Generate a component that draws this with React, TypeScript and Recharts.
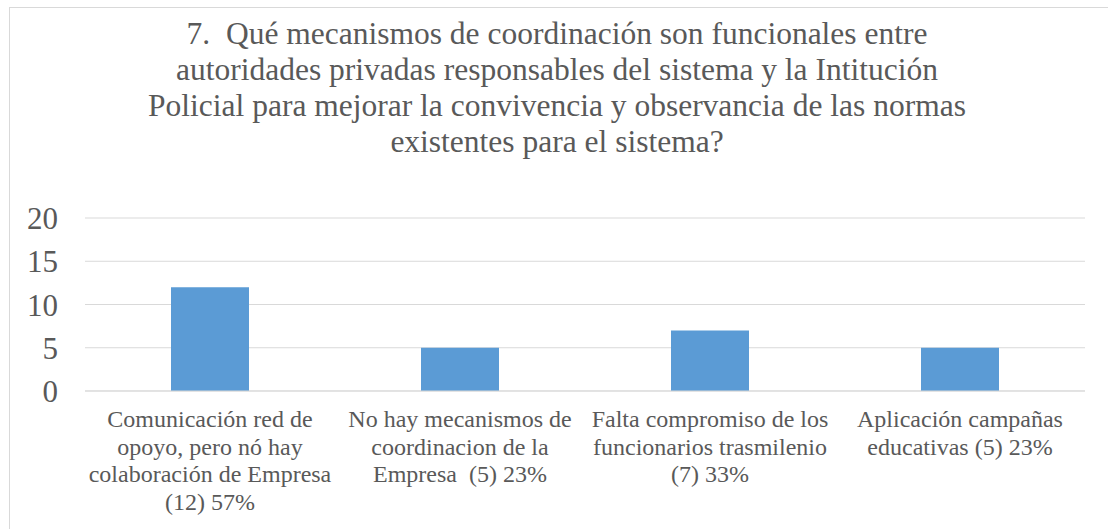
import { BarChart, Bar, XAxis, YAxis, CartesianGrid } from "recharts";

const TITLE_LINES = [
  "7.  Qué mecanismos de coordinación son funcionales entre",
  "autoridades privadas responsables del sistema y la Intitución",
  "Policial para mejorar la convivencia y observancia de las normas",
  "existentes para el sistema?",
];

const categories = [
  "Comunicación red de\nopoyo, pero nó hay\ncolaboración de Empresa\n(12) 57%",
  "No hay mecanismos de\ncoordinacion de la\nEmpresa  (5) 23%",
  "Falta compromiso de los\nfuncionarios trasmilenio\n(7) 33%",
  "Aplicación campañas\neducativas (5) 23%",
];
const counts = [12, 5, 7, 5];
const yTicks = [0, 5, 10, 15, 20];

const data = categories.map((name, i) => ({ name, value: counts[i] }));

const FONT = "Liberation Serif";
const TEXT_COLOR = "#595959";

function CategoryTick({ x, y, payload }: any) {
  const lines = String(payload.value).split("\n");
  return (
    <text
      x={x}
      y={y + 36}
      textAnchor="middle"
      fill={TEXT_COLOR}
      fontFamily={FONT}
      fontSize={24}
      xmlSpace="preserve"
    >
      {lines.map((line, i) => (
        <tspan key={i} x={x} dy={i === 0 ? 0 : 27.5}>
          {line}
        </tspan>
      ))}
    </text>
  );
}

export default function App() {
  return (
    <div style={{ position: "relative", width: 1108, height: 529, overflow: "hidden", background: "#fff" }}>
      <style>{`body{margin:0}`}</style>
      <div
        style={{
          position: "absolute",
          left: 9,
          top: 7,
          width: 1200,
          height: 600,
          border: "1px solid #d9d9d9",
          boxSizing: "border-box",
        }}
      />
      <div
        style={{
          position: "absolute",
          left: 0,
          top: 16,
          width: 1114,
          textAlign: "center",
          fontFamily: FONT,
          fontSize: 31.5,
          lineHeight: "36px",
          color: TEXT_COLOR,
          whiteSpace: "pre",
        }}
      >
        {TITLE_LINES.map((l, i) => (
          <div key={i}>{l}</div>
        ))}
      </div>
      <div style={{ position: "absolute", left: 0, top: 0 }}>
        <BarChart
          width={1108}
          height={529}
          data={data}
          margin={{ top: 218, right: 23, bottom: 8, left: 0 }}
          barCategoryGap="34.4%"
        >
          <CartesianGrid vertical={false} stroke="#d9d9d9" strokeWidth={1} />
          <XAxis
            dataKey="name"
            axisLine={{ stroke: "#d9d9d9" }}
            tickLine={false}
            tickSize={0}
            tickMargin={0}
            height={130}
            interval={0}
            tick={<CategoryTick />}
          />
          <YAxis
            domain={[0, 20]}
            ticks={yTicks}
            width={85}
            axisLine={false}
            tickLine={false}
            tickSize={6}
            tickMargin={21}
            tick={{ fill: TEXT_COLOR, fontFamily: FONT, fontSize: 31 }}
          />
          <Bar dataKey="value" fill="#5b9bd5" isAnimationActive={false} />
        </BarChart>
      </div>
    </div>
  );
}
